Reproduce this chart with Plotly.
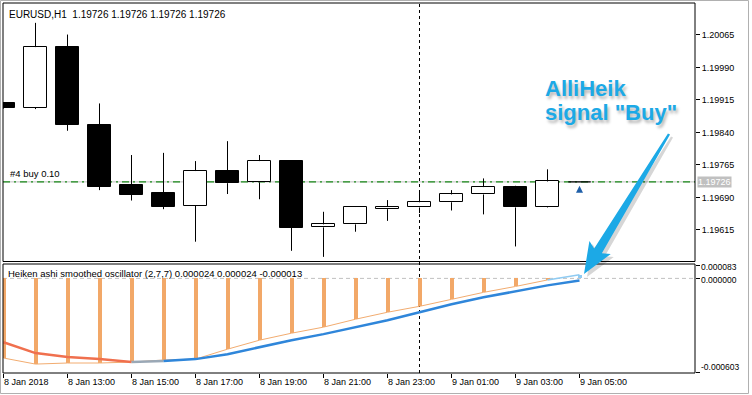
import numpy as np
import pandas as pd
import plotly.graph_objects as go

# ---------------- data ----------------
times = pd.date_range("2018-01-08 11:00", periods=19, freq="h")
open_ = [1.19908, 1.19897, 1.20037, 1.19858, 1.19719, 1.19700, 1.19671, 1.19751, 1.19725, 1.19774,
         1.19621, 1.19628, 1.19663, 1.19667, 1.19679, 1.19697, 1.19714, 1.19669, 1.19726]
high = [1.19910, 1.20093, 1.20066, 1.19907, 1.19788, 1.19793, 1.19774, 1.19820, 1.19788, 1.19775,
        1.19657, 1.19669, 1.19684, 1.19702, 1.19707, 1.19734, 1.19717, 1.19755, 1.19726]
low = [1.19895, 1.19894, 1.19844, 1.19707, 1.19683, 1.19663, 1.19588, 1.19698, 1.19686, 1.19567,
       1.19553, 1.19611, 1.19636, 1.19654, 1.19660, 1.19651, 1.19577, 1.19667, 1.19726]
close = [1.19897, 1.20037, 1.19858, 1.19715, 1.19696, 1.19669, 1.19751, 1.19723, 1.19774, 1.19620,
         1.19628, 1.19668, 1.19668, 1.19679, 1.19697, 1.19714, 1.19667, 1.19727, 1.19726]
order_price = 1.19726
signal_price = 1.19717
separator_time = "2018-01-09 00:00"

# oscillator buffers
osc_hist = [-0.000513, -0.000552, -0.000545, -0.000545, -0.000539, -0.000526, -0.000520, -0.000456,
            -0.000398, -0.000353, -0.000314, -0.000263, -0.000218, -0.000180, -0.000135, -0.000090,
            -0.000052, -0.000010, 0.000024]
osc_signal = [-0.000411, -0.000481, -0.000507, -0.000520, -0.000539, -0.000532, -0.000520, -0.000488,
              -0.000443, -0.000398, -0.000359, -0.000314, -0.000270, -0.000218, -0.000167, -0.000122,
              -0.000084, -0.000045, -0.000013]

price_ticks = [1.20065, 1.19990, 1.19915, 1.19840, 1.19765, 1.19690, 1.19615]
osc_ticks = [0.000083, 0.0, -0.000603]
osc_tick_text = ["0.000083", "0.000000", "-0.000603"]
x_tick_times = pd.date_range("2018-01-08 11:00", "2018-01-09 05:00", freq="2h")
x_tick_text = ["8 Jan 2018", "8 Jan 13:00", "8 Jan 15:00", "8 Jan 17:00", "8 Jan 19:00",
               "8 Jan 21:00", "8 Jan 23:00", "9 Jan 01:00", "9 Jan 03:00", "9 Jan 05:00"]

# ---------------- style ----------------
FONT = "Liberation Sans, Arial, sans-serif"
BODY = pd.Timedelta(minutes=42)
HIST_W = pd.Timedelta(minutes=7.5)
W, H = 752, 395
ML, MR, MT, MB = 3, 57, 3, 22
PW, PH = W - ML - MR, H - MT - MB


def px(xp):
    return (xp - ML) / PW


def py(yp):
    return (MT + PH - yp) / PH


fig = go.Figure()

# ---- candles: wicks ----
wx, wy = [], []
for t, o, h, l, c in zip(times, open_, high, low, close):
    top, bot = max(o, c), min(o, c)
    wx += [t, t, None, t, t, None]
    wy += [h, top, None, bot, l, None]
fig.add_trace(go.Scatter(x=wx, y=wy, mode="lines", line=dict(color="black", width=1),
                         hoverinfo="skip", showlegend=False, yaxis="y"))

# ---- candles: bodies ----
for up, fill in ((True, "white"), (False, "black")):
    bx, bb, bh = [], [], []
    for t, o, c in zip(times, open_, close):
        if o == c:
            continue
        if (c > o) == up:
            bx.append(t)
            bb.append(min(o, c))
            bh.append(abs(c - o))
    fig.add_trace(go.Bar(x=bx, y=bh, base=bb, width=BODY.total_seconds() * 1000,
                         marker=dict(color=fill, line=dict(color="black", width=1)),
                         showlegend=False, yaxis="y", hoverinfo="skip"))

# doji bars -> horizontal line
dx, dy = [], []
for t, o, c in zip(times, open_, close):
    if o == c:
        dx += [t - BODY / 2, t + BODY / 2, None]
        dy += [o, c, None]
fig.add_trace(go.Scatter(x=dx, y=dy, mode="lines", line=dict(color="black", width=1.3),
                         showlegend=False, yaxis="y", hoverinfo="skip"))

# buy signal arrow
fig.add_trace(go.Scatter(x=[times[-1]], y=[signal_price], mode="markers",
                         marker=dict(symbol="arrow-up", size=7, color="#1F5FA8"),
                         showlegend=False, yaxis="y"))

# ---- oscillator ----
hcols = ["#F2A868" if v < 0 else "#8FCBF2" for v in osc_hist]
fig.add_trace(go.Bar(x=times, y=osc_hist, width=HIST_W.total_seconds() * 1000,
                     marker=dict(color=hcols, line=dict(width=0)), showlegend=False,
                     yaxis="y2", hoverinfo="skip"))
fig.add_trace(go.Scatter(x=times[:18], y=osc_hist[:18], mode="lines",
                         line=dict(color="#F2AC70", width=1), showlegend=False, yaxis="y2"))
fig.add_trace(go.Scatter(x=times[17:], y=osc_hist[17:], mode="lines",
                         line=dict(color="#8FCBF2", width=1.5), showlegend=False, yaxis="y2"))
fig.add_trace(go.Scatter(x=times[0:5], y=osc_signal[0:5], mode="lines",
                         line=dict(color="#F0704E", width=2.5), showlegend=False, yaxis="y2"))
fig.add_trace(go.Scatter(x=times[4:6], y=osc_signal[4:6], mode="lines",
                         line=dict(color="#9AA8B6", width=2.5), showlegend=False, yaxis="y2"))
fig.add_trace(go.Scatter(x=times[5:], y=osc_signal[5:], mode="lines",
                         line=dict(color="#2F86DA", width=2.5), showlegend=False, yaxis="y2"))

# ---------------- layout ----------------
x_start = times[0] - pd.Timedelta(hours=0.5 / 32)
x_end = x_start + pd.Timedelta(hours=PW / 32)

top_dom = [py(261.5), py(3)]
bot_dom = [0, py(264)]

shapes = []
# pane frames
for yr in ("y domain", "y2 domain"):
    shapes.append(dict(type="rect", xref="x domain", yref=yr, x0=0, x1=1, y0=0, y1=1,
                       line=dict(color="black", width=1), layer="above"))
# period separator
shapes.append(dict(type="line", xref="x", yref="paper", x0=separator_time, x1=separator_time,
                   y0=0, y1=1, line=dict(color="black", width=1, dash="3px,3px"), layer="below"))
# bid line + order line
shapes.append(dict(type="line", xref="x domain", yref="y", x0=0, x1=1, y0=order_price, y1=order_price,
                   line=dict(color="#C0C0C0", width=1), layer="below"))
shapes.append(dict(type="line", xref="x domain", yref="y", x0=0, x1=1, y0=order_price, y1=order_price,
                   line=dict(color="#1A8A1A", width=1.2, dash="7px,4px,2px,4px"), layer="below"))
# oscillator zero level
shapes.append(dict(type="line", xref="x domain", yref="y2", x0=0, x1=1, y0=0, y1=0,
                   line=dict(color="#C0C0C0", width=1, dash="4px,3px"), layer="below"))
# window border
shapes.append(dict(type="rect", xref="paper", yref="paper", x0=px(0.5), x1=px(748.5),
                   y0=py(393.5), y1=py(0.5), line=dict(color="#B0B0B0", width=1)))

# big callout arrow (decoration)
tail = np.array([669.0, 134.0])
tip = np.array([584.0, 274.0])
u = (tip - tail) / np.linalg.norm(tip - tail)
n = np.array([u[1], -u[0]])
base = tip - u * 27
pts = [tail + n * 1.2, base + n * 4.5, base + n * 12.5 - u * 4, tip,
       base - n * 12.5 - u * 4, base - n * 4.5, tail - n * 1.2]


def arrow_path(off):
    return "M " + " L ".join(f"{px(p[0] + off[0])},{py(p[1] + off[1])}" for p in pts) + " Z"


shapes.append(dict(type="path", xref="paper", yref="paper", path=arrow_path((3, 3)),
                   fillcolor="rgba(0,0,0,0.16)", line=dict(width=0), layer="above"))
shapes.append(dict(type="path", xref="paper", yref="paper", path=arrow_path((0, 0)),
                   fillcolor="#1CA9E6", line=dict(width=0), layer="above"))

CALLOUT_FONT = dict(family=FONT, size=22, color="#1CA9E6", weight="bold",
                    shadow="2px 3px 3px rgba(0,0,0,0.28)")
annotations = [
    dict(text="EURUSD,H1  1.19726 1.19726 1.19726 1.19726", xref="paper", yref="paper",
         x=px(7), y=py(14), xanchor="left", yanchor="middle", showarrow=False,
         font=dict(family=FONT, size=10, color="black")),
    dict(text="#4 buy 0.10", xref="paper", yref="y", x=px(8), y=order_price, yshift=1,
         xanchor="left", yanchor="bottom", showarrow=False,
         font=dict(family=FONT, size=9.5, color="black")),
    dict(text="1.19726", xref="paper", yref="y", x=1, y=order_price, xanchor="left", yanchor="middle",
         xshift=2, showarrow=False, bgcolor="#C0C0C0", borderpad=0,
         font=dict(family=FONT, size=9, color="white")),
    dict(text="Heiken ashi smoothed oscillator (2,7,7) 0.000024 0.000024 -0.000013", xref="paper",
         yref="paper", x=px(6), y=py(273.5), xanchor="left", yanchor="middle", showarrow=False,
         font=dict(family=FONT, size=9.5, color="black")),
    dict(text="AlliHeik", xref="paper", yref="paper", x=px(543), y=py(88), xanchor="left",
         yanchor="middle", showarrow=False, font=CALLOUT_FONT),
    dict(text="signal \"Buy\"", xref="paper", yref="paper", x=px(543), y=py(112), xanchor="left",
         yanchor="middle", showarrow=False, font=CALLOUT_FONT),
]
yshifts = [-1.5, -1.5, 5]
for v, t, s in zip(osc_ticks, osc_tick_text, yshifts):
    annotations.append(dict(text=t, xref="paper", yref="y2", x=1, y=v, xanchor="left",
                            yanchor="middle", xshift=4, yshift=s, showarrow=False,
                            font=dict(family=FONT, size=8.5, color="black")))

fig.update_layout(
    width=W, height=H, margin=dict(l=ML, r=MR, t=MT, b=MB),
    paper_bgcolor="white", plot_bgcolor="white", barmode="overlay", bargap=0,
    showlegend=False, hovermode=False,
    xaxis=dict(type="date", domain=[0, 1], range=[x_start, x_end], anchor="y2",
               tickmode="array", tickvals=list(x_tick_times), ticktext=x_tick_text,
               ticks="outside", ticklen=4, tickcolor="black", ticklabelposition="outside right",
               tickfont=dict(family=FONT, size=9, color="black"),
               showgrid=False, zeroline=False, showline=False),
    yaxis=dict(domain=top_dom, range=[1.195423, 1.201388], side="right", anchor="x",
               tickmode="array", tickvals=price_ticks, ticktext=[f"{v:.5f}" for v in price_ticks],
               ticks="outside", ticklen=4, tickcolor="black",
               tickfont=dict(family=FONT, size=9, color="black"),
               showgrid=False, zeroline=False, showline=False),
    yaxis2=dict(domain=bot_dom, range=[-0.0006094, 0.0000927], side="right", anchor="x",
                tickmode="array", tickvals=osc_ticks, showticklabels=False,
                ticks="outside", ticklen=4, tickcolor="black",
                showgrid=False, zeroline=False, showline=False),
    shapes=shapes, annotations=annotations,
)

fig.write_html("out.html")
